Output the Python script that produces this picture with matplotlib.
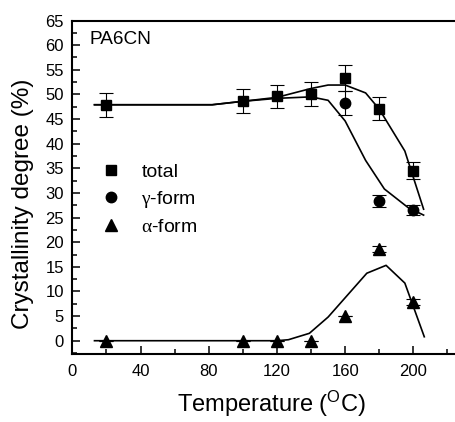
import numpy as np
import matplotlib
matplotlib.use("Agg")
import matplotlib.pyplot as plt
from matplotlib.ticker import MultipleLocator
from matplotlib.lines import Line2D

plt.rcParams['font.family'] = ['Liberation Sans', 'DejaVu Sans']
plt.rcParams['mathtext.fontset'] = 'custom'
plt.rcParams['mathtext.rm'] = 'Liberation Serif'
plt.rcParams['mathtext.it'] = 'Liberation Serif:italic'

# measured points
temp = [20, 100, 120, 140, 160, 180, 200]
total = [47.9, 48.6, 49.6, 50.1, 53.3, 47.1, 34.5]
total_err = [2.4, 2.4, 2.4, 2.5, 2.6, 2.3, 1.7]
gamma_t = [160, 180, 200]
gamma = [48.2, 28.4, 26.6]
gamma_err = [2.4, 1.2, 1.0]
alpha = [0, 0, 0, 0, 5.1, 18.6, 7.9]
alpha_err = [0, 0, 0, 0, 0, 0.6, 0.6]

# fitted curves
fit_t_total = [13, 82, 100, 120, 140, 150, 160, 172, 180, 195, 206]
fit_total = [47.9, 47.9, 48.6, 49.4, 51.2, 51.9, 51.9, 50.3, 47.0, 38.5, 26.7]
fit_t_gamma = [13, 82, 100, 120, 140, 150, 160, 172, 183, 197, 206]
fit_gamma = [47.9, 47.9, 48.6, 49.2, 49.5, 48.8, 44.6, 36.6, 30.8, 27.0, 25.5]
fit_t_alpha = [13, 120, 126.7, 139, 150, 172.7, 184, 195, 206.4]
fit_alpha = [0, 0, 0.2, 1.5, 4.8, 13.7, 15.3, 11.7, 0.8]

fig = plt.figure(figsize=(4.56, 4.22), dpi=100)
ax = fig.add_axes([0.1586, 0.1611, 0.8414, 0.7903])

ax.plot(fit_t_total, fit_total, color='black', lw=1.2, zorder=2)
ax.plot(fit_t_gamma, fit_gamma, color='black', lw=1.2, zorder=2)
ax.plot(fit_t_alpha, fit_alpha, color='black', lw=1.2, zorder=2)

eb = dict(ecolor='black', elinewidth=0.8, capsize=5, capthick=0.8, zorder=3)
ax.errorbar(temp, total, yerr=total_err, fmt='s', color='black', ms=7.2, **eb)
ax.errorbar(gamma_t, gamma, yerr=gamma_err, fmt='o', color='black', ms=7.5, **eb)
ax.errorbar(temp, alpha, yerr=alpha_err, fmt='^', color='black', ms=8, **eb)

ax.set_xlim(0, 225)
ax.set_ylim(-2.7, 65)
ax.xaxis.set_major_locator(MultipleLocator(40))
ax.xaxis.set_minor_locator(MultipleLocator(20))
ax.yaxis.set_major_locator(MultipleLocator(5))
ax.yaxis.set_minor_locator(MultipleLocator(2.5))
ax.tick_params(which='both', direction='in', labelsize=12, width=1.1)
ax.tick_params(which='major', length=6)
ax.tick_params(axis='y', which='major', pad=6)
ax.tick_params(axis='x', which='major', pad=7)
ax.tick_params(which='minor', length=3.5)
ax.spines['right'].set_visible(False)
for s in ['left', 'bottom', 'top']:
    ax.spines[s].set_linewidth(1.5)

ax.set_xlabel(r'Temperature ($\mathregular{^O}$C)', fontsize=17)
ax.set_ylabel('Crystallinity degree (%)', fontsize=17.5)
ax.xaxis.set_label_coords(0.518, -0.105)
ax.yaxis.set_label_coords(-0.10, 0.451)

ax.text(0.0456, 0.943, 'PA6CN', transform=ax.transAxes, fontsize=13.7,
        ha='left', va='center')

handles = [Line2D([], [], ls='none', marker='s', color='black', ms=7.2),
           Line2D([], [], ls='none', marker='o', color='black', ms=7.5),
           Line2D([], [], ls='none', marker='^', color='black', ms=8)]
labels = ['total', r'$\mathrm{\gamma}$-form', r'$\mathrm{\alpha}$-form']
ax.legend(handles, labels, loc='upper left', bbox_to_anchor=(0.0495, 0.602),
          frameon=False, fontsize=14, handlelength=1.0, handletextpad=1.08,
          labelspacing=0.42, borderpad=0)

fig.savefig('out.png', dpi=100)
